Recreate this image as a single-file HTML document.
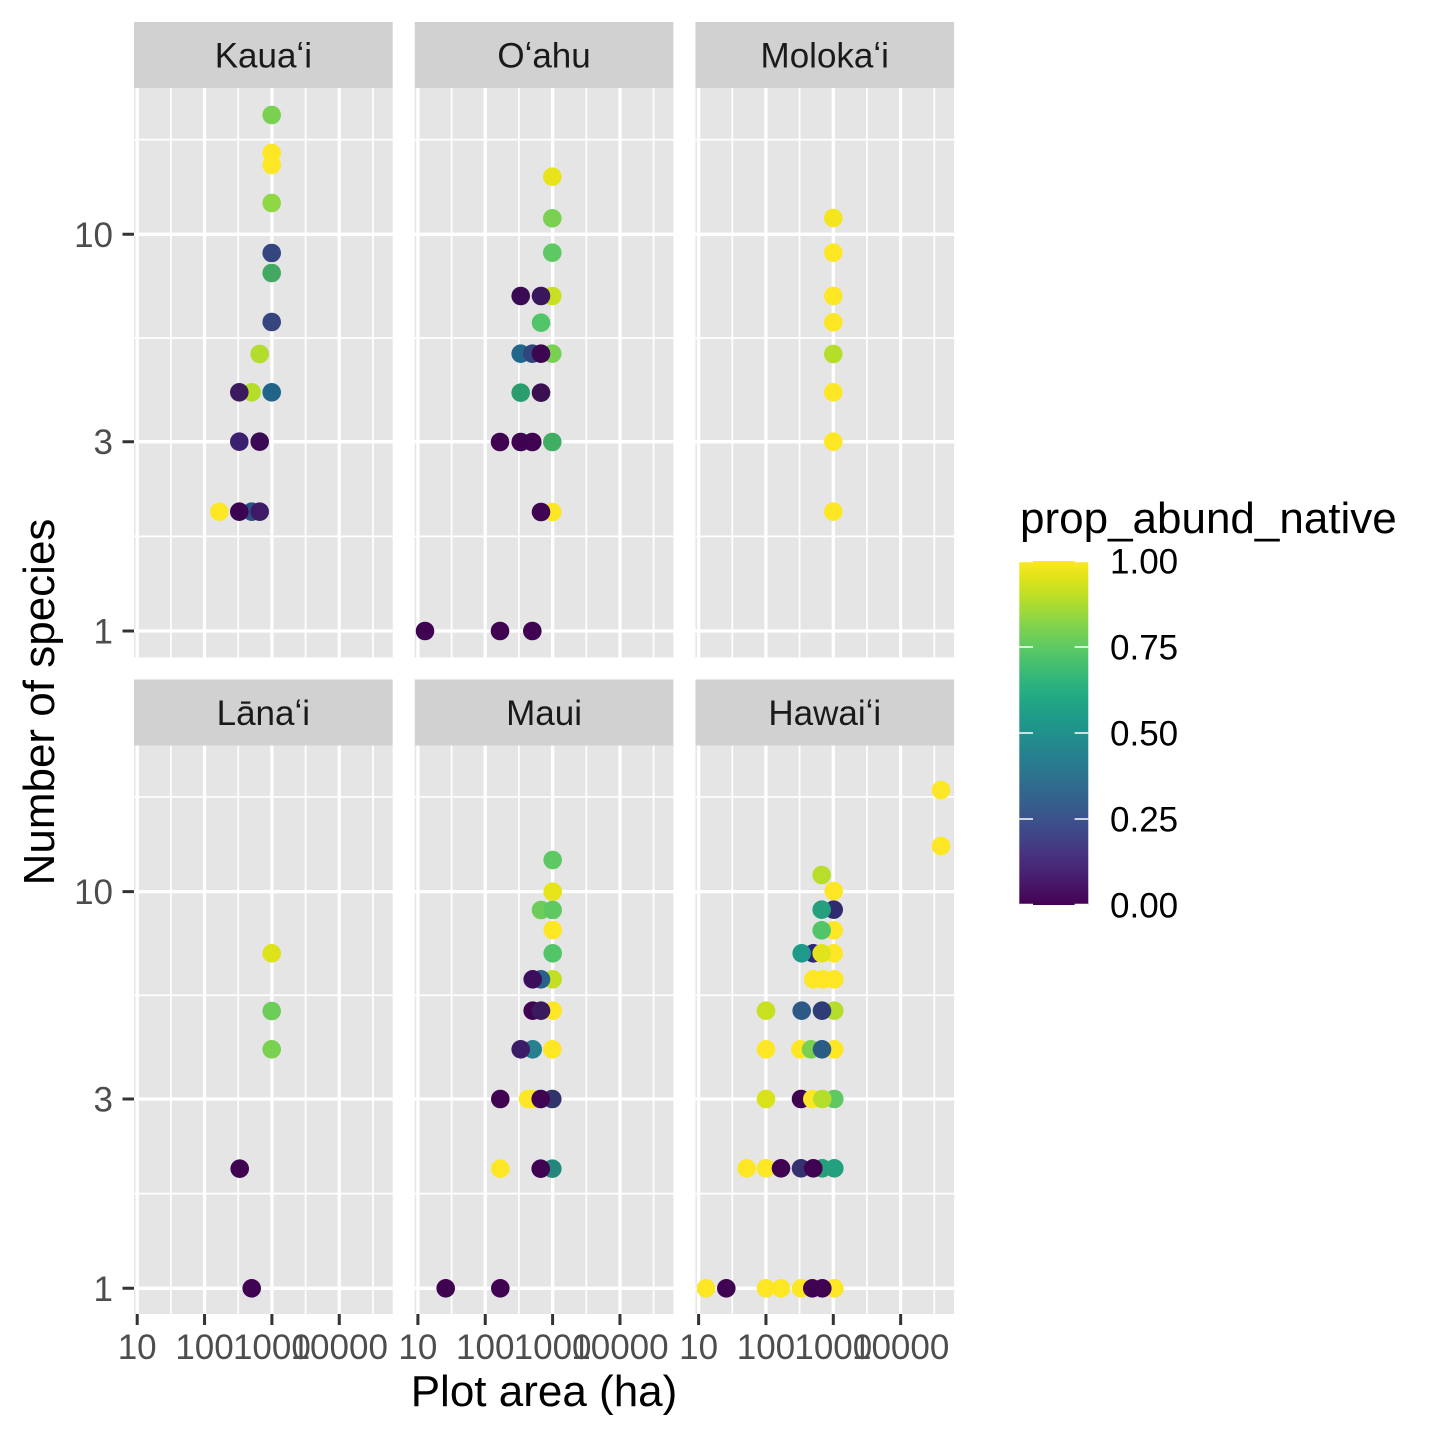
<!DOCTYPE html>
<html><head><meta charset="utf-8"><style>
html,body{margin:0;padding:0;background:#fff;}
svg{display:block;}
text{font-family:"Liberation Sans","DejaVu Sans",Arial,sans-serif;}
</style></head><body>
<svg width="1440" height="1440" viewBox="0 0 1440 1440" xmlns="http://www.w3.org/2000/svg">
<defs>
<linearGradient id="vir" x1="0" y1="1" x2="0" y2="0">
<stop offset="0" stop-color="#440154"/><stop offset="0.05" stop-color="#471365"/><stop offset="0.1" stop-color="#482475"/><stop offset="0.15" stop-color="#463480"/><stop offset="0.2" stop-color="#414487"/><stop offset="0.25" stop-color="#3b528b"/><stop offset="0.3" stop-color="#355f8d"/><stop offset="0.35" stop-color="#2f6c8e"/><stop offset="0.4" stop-color="#2a788e"/><stop offset="0.45" stop-color="#25848e"/><stop offset="0.5" stop-color="#21918c"/><stop offset="0.55" stop-color="#1e9c89"/><stop offset="0.6" stop-color="#22a884"/><stop offset="0.65" stop-color="#2fb47c"/><stop offset="0.7" stop-color="#44bf70"/><stop offset="0.75" stop-color="#5ec962"/><stop offset="0.8" stop-color="#7ad151"/><stop offset="0.85" stop-color="#9bd93c"/><stop offset="0.9" stop-color="#bddf26"/><stop offset="0.95" stop-color="#dfe318"/><stop offset="1" stop-color="#fde725"/>
</linearGradient>
</defs>
<rect width="1440" height="1440" fill="#fff"/>

<!-- panel backgrounds -->
<g fill="#e5e5e5">
<rect x="134" y="88" width="258.7" height="569.5"/>
<rect x="414.7" y="88" width="258.7" height="569.5"/>
<rect x="695.4" y="88" width="258.7" height="569.5"/>
<rect x="134" y="745.5" width="258.7" height="568.5"/>
<rect x="414.7" y="745.5" width="258.7" height="568.5"/>
<rect x="695.4" y="745.5" width="258.7" height="568.5"/>
</g>

<!-- minor grid -->
<g stroke="#fff" stroke-width="1.7" fill="none">
<path d="M134 536.35H392.7M134 338H392.7M134 139.65H392.7 M414.7 536.35H673.4M414.7 338H673.4M414.7 139.65H673.4 M695.4 536.35H954.1M695.4 338H954.1M695.4 139.65H954.1"/>
<path d="M134 1193.65H392.7M134 995.3H392.7M134 796.95H392.7 M414.7 1193.65H673.4M414.7 995.3H673.4M414.7 796.95H673.4 M695.4 1193.65H954.1M695.4 995.3H954.1M695.4 796.95H954.1"/>
<path d="M170.9 88V657.5M238.2 88V657.5M305.6 88V657.5M372.9 88V657.5 M451.6 88V657.5M518.9 88V657.5M586.3 88V657.5M653.6 88V657.5 M732.3 88V657.5M799.6 88V657.5M867 88V657.5M934.3 88V657.5"/>
<path d="M170.9 745.5V1314M238.2 745.5V1314M305.6 745.5V1314M372.9 745.5V1314 M451.6 745.5V1314M518.9 745.5V1314M586.3 745.5V1314M653.6 745.5V1314 M732.3 745.5V1314M799.6 745.5V1314M867 745.5V1314M934.3 745.5V1314"/>
</g>
<!-- major grid -->
<g stroke="#fff" stroke-width="3.3" fill="none">
<path d="M134 631H392.7M134 441.7H392.7M134 234.3H392.7 M414.7 631H673.4M414.7 441.7H673.4M414.7 234.3H673.4 M695.4 631H954.1M695.4 441.7H954.1M695.4 234.3H954.1"/>
<path d="M134 1288.3H392.7M134 1099H392.7M134 891.6H392.7 M414.7 1288.3H673.4M414.7 1099H673.4M414.7 891.6H673.4 M695.4 1288.3H954.1M695.4 1099H954.1M695.4 891.6H954.1"/>
<path d="M137.2 88V657.5M204.55 88V657.5M271.9 88V657.5M339.25 88V657.5 M417.9 88V657.5M485.25 88V657.5M552.6 88V657.5M619.95 88V657.5 M698.6 88V657.5M765.95 88V657.5M833.3 88V657.5M900.65 88V657.5"/>
<path d="M137.2 745.5V1314M204.55 745.5V1314M271.9 745.5V1314M339.25 745.5V1314 M417.9 745.5V1314M485.25 745.5V1314M552.6 745.5V1314M619.95 745.5V1314 M698.6 745.5V1314M765.95 745.5V1314M833.3 745.5V1314M900.65 745.5V1314"/>
</g>

<!-- points -->
<g>
<circle cx="271.7" cy="115" r="9.3" fill="#7ad151"/>
<circle cx="271.7" cy="153" r="9.3" fill="#fde725"/>
<circle cx="271.7" cy="165" r="9.3" fill="#fde725"/>
<circle cx="271.7" cy="203" r="9.3" fill="#8fd744"/>
<circle cx="271.7" cy="253" r="9.3" fill="#34457f"/>
<circle cx="271.7" cy="273" r="9.3" fill="#42a862"/>
<circle cx="271.7" cy="322" r="9.3" fill="#34457f"/>
<circle cx="259.7" cy="354" r="9.3" fill="#b2dd2d"/>
<circle cx="251.7" cy="392.3" r="9.3" fill="#b5de2b"/>
<circle cx="239.3" cy="392.3" r="9.3" fill="#3b1a60"/>
<circle cx="271.7" cy="392.3" r="9.3" fill="#21648a"/>
<circle cx="239.3" cy="441.7" r="9.3" fill="#3b2070"/>
<circle cx="259.7" cy="441.7" r="9.3" fill="#3a0a55"/>
<circle cx="219.3" cy="511.7" r="9.3" fill="#fde725"/>
<circle cx="251.7" cy="511.7" r="9.3" fill="#2c5084"/>
<circle cx="239.3" cy="511.7" r="9.3" fill="#3d0353"/>
<circle cx="259.7" cy="511.7" r="9.3" fill="#3e1a66"/>
<circle cx="552.3" cy="176.7" r="9.3" fill="#e8e419"/>
<circle cx="552.3" cy="218.3" r="9.3" fill="#7ad151"/>
<circle cx="552.3" cy="252.7" r="9.3" fill="#5ec962"/>
<circle cx="552.3" cy="296" r="9.3" fill="#c8e020"/>
<circle cx="520.7" cy="296" r="9.3" fill="#3a0b55"/>
<circle cx="541" cy="296" r="9.3" fill="#38175c"/>
<circle cx="541" cy="322.7" r="9.3" fill="#52c569"/>
<circle cx="552.3" cy="353.7" r="9.3" fill="#7ad151"/>
<circle cx="520.7" cy="353.7" r="9.3" fill="#21668b"/>
<circle cx="532.3" cy="353.7" r="9.3" fill="#31447f"/>
<circle cx="541" cy="353.7" r="9.3" fill="#3c0650"/>
<circle cx="520.7" cy="392.7" r="9.3" fill="#2a9d6f"/>
<circle cx="541" cy="392.7" r="9.3" fill="#3a1052"/>
<circle cx="500" cy="442" r="9.3" fill="#3f0352"/>
<circle cx="520.7" cy="442" r="9.3" fill="#3f0352"/>
<circle cx="532.3" cy="442" r="9.3" fill="#3f0352"/>
<circle cx="552.3" cy="442" r="9.3" fill="#3fae63"/>
<circle cx="552.3" cy="512" r="9.3" fill="#fde725"/>
<circle cx="541" cy="512" r="9.3" fill="#3f0352"/>
<circle cx="425" cy="631" r="9.3" fill="#3f0352"/>
<circle cx="500" cy="631" r="9.3" fill="#3f0352"/>
<circle cx="532.3" cy="631" r="9.3" fill="#3f0352"/>
<circle cx="833.3" cy="218" r="9.3" fill="#f3e51e"/>
<circle cx="833.3" cy="252.7" r="9.3" fill="#fde725"/>
<circle cx="833.3" cy="296" r="9.3" fill="#fde725"/>
<circle cx="833.3" cy="322.3" r="9.3" fill="#fde725"/>
<circle cx="833.3" cy="354" r="9.3" fill="#b5de2b"/>
<circle cx="833.3" cy="392.3" r="9.3" fill="#fde725"/>
<circle cx="833.3" cy="441.7" r="9.3" fill="#fde725"/>
<circle cx="833.3" cy="511.7" r="9.3" fill="#fde725"/>
<circle cx="271.7" cy="953.3" r="9.3" fill="#dde318"/>
<circle cx="271.7" cy="1011" r="9.3" fill="#6ccd5a"/>
<circle cx="271.7" cy="1049.3" r="9.3" fill="#7ad151"/>
<circle cx="239.7" cy="1168.7" r="9.3" fill="#3f0352"/>
<circle cx="251.7" cy="1288.3" r="9.3" fill="#3f0352"/>
<circle cx="552.7" cy="860" r="9.3" fill="#5ec962"/>
<circle cx="552.7" cy="891.7" r="9.3" fill="#e5e419"/>
<circle cx="541" cy="910" r="9.3" fill="#6ccd5a"/>
<circle cx="552.7" cy="910" r="9.3" fill="#5ec962"/>
<circle cx="552.7" cy="930" r="9.3" fill="#fde725"/>
<circle cx="552.7" cy="953.3" r="9.3" fill="#52c569"/>
<circle cx="552.7" cy="979.3" r="9.3" fill="#c2df23"/>
<circle cx="541" cy="979.3" r="9.3" fill="#26628a"/>
<circle cx="532.7" cy="979.3" r="9.3" fill="#3b0f5e"/>
<circle cx="552.7" cy="1010.7" r="9.3" fill="#fde725"/>
<circle cx="532.7" cy="1010.7" r="9.3" fill="#3f0352"/>
<circle cx="541" cy="1010.7" r="9.3" fill="#3a1a5c"/>
<circle cx="532.7" cy="1049.3" r="9.3" fill="#27808e"/>
<circle cx="520.7" cy="1049.3" r="9.3" fill="#3b1c66"/>
<circle cx="552.3" cy="1049.3" r="9.3" fill="#fde725"/>
<circle cx="500.3" cy="1099" r="9.3" fill="#3f0352"/>
<circle cx="528" cy="1099" r="9.3" fill="#fde725"/>
<circle cx="532.7" cy="1099" r="9.3" fill="#fde725"/>
<circle cx="552.3" cy="1099" r="9.3" fill="#31336b"/>
<circle cx="540.7" cy="1099" r="9.3" fill="#3f0352"/>
<circle cx="500.3" cy="1168.7" r="9.3" fill="#fde725"/>
<circle cx="552.3" cy="1168.7" r="9.3" fill="#23877e"/>
<circle cx="540.7" cy="1168.7" r="9.3" fill="#3f0352"/>
<circle cx="445.7" cy="1288.3" r="9.3" fill="#3f0352"/>
<circle cx="500.3" cy="1288.3" r="9.3" fill="#3f0352"/>
<circle cx="941" cy="790" r="9.3" fill="#fde725"/>
<circle cx="941" cy="846" r="9.3" fill="#fde725"/>
<circle cx="821.7" cy="875" r="9.3" fill="#b8de29"/>
<circle cx="833.7" cy="891" r="9.3" fill="#fde725"/>
<circle cx="833.7" cy="909.7" r="9.3" fill="#312a6e"/>
<circle cx="821.7" cy="909.7" r="9.3" fill="#25a07e"/>
<circle cx="833.7" cy="930.3" r="9.3" fill="#fde725"/>
<circle cx="821.7" cy="930.3" r="9.3" fill="#52c569"/>
<circle cx="813.3" cy="953.3" r="9.3" fill="#30267a"/>
<circle cx="801.7" cy="953.3" r="9.3" fill="#1f9a8a"/>
<circle cx="833.7" cy="953.3" r="9.3" fill="#fde725"/>
<circle cx="821.7" cy="953.3" r="9.3" fill="#e1e31c"/>
<circle cx="813.3" cy="979.3" r="9.3" fill="#fde725"/>
<circle cx="834.3" cy="979.3" r="9.3" fill="#fde725"/>
<circle cx="823.3" cy="979.3" r="9.3" fill="#fde725"/>
<circle cx="766" cy="1010.7" r="9.3" fill="#c8e020"/>
<circle cx="801.7" cy="1010.7" r="9.3" fill="#2c5986"/>
<circle cx="834.3" cy="1010.7" r="9.3" fill="#b5de2b"/>
<circle cx="822" cy="1010.7" r="9.3" fill="#2e3d78"/>
<circle cx="766" cy="1049.3" r="9.3" fill="#fde725"/>
<circle cx="800.3" cy="1049.3" r="9.3" fill="#fde725"/>
<circle cx="811" cy="1049.3" r="9.3" fill="#7ad151"/>
<circle cx="834.3" cy="1049.3" r="9.3" fill="#fde725"/>
<circle cx="822" cy="1049.3" r="9.3" fill="#2a5c84"/>
<circle cx="766" cy="1099" r="9.3" fill="#d8e219"/>
<circle cx="801" cy="1099" r="9.3" fill="#3f0352"/>
<circle cx="812.3" cy="1099" r="9.3" fill="#fde725"/>
<circle cx="834.3" cy="1099" r="9.3" fill="#5ec962"/>
<circle cx="822.3" cy="1099" r="9.3" fill="#b5de2b"/>
<circle cx="746.7" cy="1168.3" r="9.3" fill="#fde725"/>
<circle cx="766" cy="1168.3" r="9.3" fill="#fde725"/>
<circle cx="781" cy="1168.3" r="9.3" fill="#3f0352"/>
<circle cx="801" cy="1168.3" r="9.3" fill="#35306f"/>
<circle cx="822.3" cy="1168.3" r="9.3" fill="#28a077"/>
<circle cx="834.3" cy="1168.3" r="9.3" fill="#22a07f"/>
<circle cx="813.3" cy="1168.3" r="9.3" fill="#3f0352"/>
<circle cx="706" cy="1288.3" r="9.3" fill="#fde725"/>
<circle cx="726.3" cy="1288.3" r="9.3" fill="#3f0352"/>
<circle cx="766" cy="1288.3" r="9.3" fill="#fde725"/>
<circle cx="781" cy="1288.3" r="9.3" fill="#fde725"/>
<circle cx="801" cy="1288.3" r="9.3" fill="#fde725"/>
<circle cx="834.3" cy="1288.3" r="9.3" fill="#fde725"/>
<circle cx="812.3" cy="1288.3" r="9.3" fill="#3f0352"/>
<circle cx="822.3" cy="1288.3" r="9.3" fill="#3f0352"/>
</g>

<!-- strips -->
<g fill="#d1d1d1">
<rect x="134" y="22" width="258.7" height="66"/>
<rect x="414.7" y="22" width="258.7" height="66"/>
<rect x="695.4" y="22" width="258.7" height="66"/>
<rect x="134" y="679.5" width="258.7" height="66"/>
<rect x="414.7" y="679.5" width="258.7" height="66"/>
<rect x="695.4" y="679.5" width="258.7" height="66"/>
</g>
<g font-size="35" fill="#1a1a1a" text-anchor="middle">
<text x="263.35" y="67.5">Kauaʻi</text>
<text x="544.05" y="67.5">Oʻahu</text>
<text x="824.75" y="67.5">Molokaʻi</text>
<text x="263.35" y="725">Lānaʻi</text>
<text x="544.05" y="725">Maui</text>
<text x="824.75" y="725">Hawaiʻi</text>
</g>

<!-- axis ticks -->
<g stroke="#333333" stroke-width="3" fill="none">
<path d="M122.5 631H134M122.5 441.7H134M122.5 234.3H134M122.5 1288.3H134M122.5 1099H134M122.5 891.6H134"/>
<path d="M137.2 1314V1325M204.55 1314V1325M271.9 1314V1325M339.25 1314V1325 M417.9 1314V1325M485.25 1314V1325M552.6 1314V1325M619.95 1314V1325 M698.6 1314V1325M765.95 1314V1325M833.3 1314V1325M900.65 1314V1325"/>
</g>
<g font-size="35" fill="#4d4d4d" text-anchor="end">
<text x="113" y="246.8">10</text>
<text x="113" y="454.2">3</text>
<text x="113" y="643.5">1</text>
<text x="113" y="904.1">10</text>
<text x="113" y="1111.5">3</text>
<text x="113" y="1300.8">1</text>
</g>
<g font-size="35" fill="#4d4d4d" text-anchor="middle">
<text x="137.2" y="1359">10</text>
<text x="204.55" y="1359">100</text>
<text x="271.9" y="1359">1000</text>
<text x="339.25" y="1359">10000</text>
<text x="417.9" y="1359">10</text>
<text x="485.25" y="1359">100</text>
<text x="552.6" y="1359">1000</text>
<text x="619.95" y="1359">10000</text>
<text x="698.6" y="1359">10</text>
<text x="765.95" y="1359">100</text>
<text x="833.3" y="1359">1000</text>
<text x="900.65" y="1359">10000</text>
</g>

<!-- axis titles -->
<text x="544" y="1406" font-size="44" fill="#000" text-anchor="middle">Plot area (ha)</text>
<text transform="translate(54,702) rotate(-90)" font-size="44" fill="#000" text-anchor="middle">Number of species</text>

<!-- legend -->
<text x="1020" y="533" font-size="44" fill="#000">prop_abund_native</text>
<rect x="1019.3" y="561" width="69" height="344" fill="url(#vir)"/>
<g stroke="#fff" stroke-width="1.6">
<path d="M1019.3 647H1033M1074.6 647H1088.3M1019.3 733H1033M1074.6 733H1088.3M1019.3 819H1033M1074.6 819H1088.3M1019.3 904.5H1033M1074.6 904.5H1088.3M1019.3 561.5H1033M1074.6 561.5H1088.3"/>
</g>
<g font-size="35" fill="#000">
<text x="1110" y="573.5">1.00</text>
<text x="1110" y="659.5">0.75</text>
<text x="1110" y="745.5">0.50</text>
<text x="1110" y="831.5">0.25</text>
<text x="1110" y="917.5">0.00</text>
</g>
</svg>
</body></html>
